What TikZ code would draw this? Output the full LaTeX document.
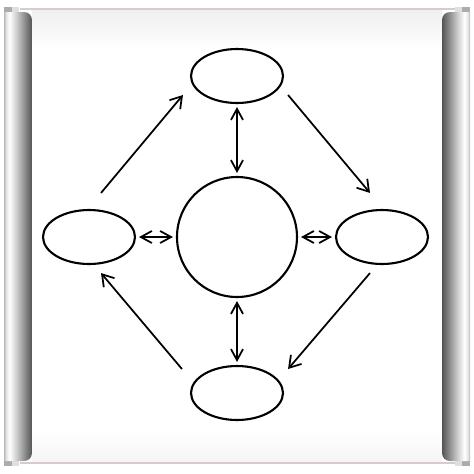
\documentclass[tikz,border=0pt]{standalone}
\usetikzlibrary{arrows.meta,shapes.geometric}
\pgfdeclarehorizontalshading{rollleft}{100bp}{color(0bp)=(gray!55); color(25bp)=(gray!55); color(29bp)=(gray!20); color(35bp)=(white); color(46bp)=(gray!35); color(71bp)=(gray!80!black); color(75bp)=(gray!65!black); color(100bp)=(gray!65!black)}
\pgfdeclarehorizontalshading{rollright}{100bp}{color(0bp)=(gray!65!black); color(25bp)=(gray!65!black); color(29bp)=(gray!80!black); color(54bp)=(gray!35); color(65bp)=(white); color(71bp)=(gray!20); color(75bp)=(gray!55); color(100bp)=(gray!55)}
\definecolor{edgepink}{RGB}{214,204,207}

\begin{document}
\begin{tikzpicture}[x=0.02cm, y=-0.02cm,
    oval/.style={draw, ellipse, line width=1.2pt, inner sep=0pt, minimum width=1.84cm, minimum height=1.08cm},
    tip/.style={line width=1pt, -{Straight Barb[length=0.22cm,width=0.28cm]}},
    twotip/.style={line width=1pt, {Straight Barb[length=0.22cm,width=0.24cm]}-{Straight Barb[length=0.22cm,width=0.24cm]}, shorten <=0.06cm, shorten >=0.06cm}]
  \useasboundingbox (0,0) rectangle (474,474);
  \fill [white] (0,0) rectangle (474,474);
  \shade [top color=gray!12, bottom color=white] (32,10) rectangle (442,50);
  \shade [top color=white, bottom color=gray!8] (32,430) rectangle (442,462);
  \draw [edgepink, line width=1.2pt] (20,9) -- (455,9);
  \draw [edgepink, line width=1.2pt] (20,463) -- (455,463);
  \fill [gray!65] (4,7) rectangle (12,14);
  \fill [gray!25] (12,7) rectangle (19,14);
  \fill [gray!65] (4,460) rectangle (12,466);
  \fill [gray!25] (12,460) rectangle (19,466);
  \fill [gray!65] (462,7) rectangle (470,14);
  \fill [gray!25] (455,7) rectangle (462,14);
  \fill [gray!65] (462,460) rectangle (470,466);
  \fill [gray!25] (455,460) rectangle (462,466);
  \shade [shading=rollleft] (4,461) -- (4,12) [rounded corners=0.16cm] -- (32,12) -- (32,461) [sharp corners] -- cycle;
  \shade [shading=rollright] (470,461) -- (470,12) [rounded corners=0.16cm] -- (442,12) -- (442,461) [sharp corners] -- cycle;
  \node [draw, circle, line width=1.2pt, inner sep=0pt, minimum size=2.4cm] (hub) at (237,237) {};
  \node [oval] (ovtop) at (237,76) {};
  \node [oval] (ovleft) at (89,237) {};
  \node [oval] (ovright) at (382,237) {};
  \node [oval] (ovbottom) at (237,393) {};
  \draw [twotip] (ovtop) -- (hub);
  \draw [twotip] (hub) -- (ovbottom);
  \draw [twotip] (ovleft) -- (hub);
  \draw [twotip] (hub) -- (ovright);
  \draw [tip] ([shift={(12,-16)}]ovleft.north) -- ([shift={(-7,19)}]ovtop.west);
  \draw [tip] ([shift={(4,19)}]ovtop.east) -- ([shift={(-12,-16)}]ovright.north);
  \draw [tip] ([shift={(-12,8)}]ovright.south) -- ([shift={(4,-24)}]ovbottom.east);
  \draw [tip] ([shift={(-8,-24)}]ovbottom.west) -- ([shift={(12,8)}]ovleft.south);
\end{tikzpicture}
\end{document}
